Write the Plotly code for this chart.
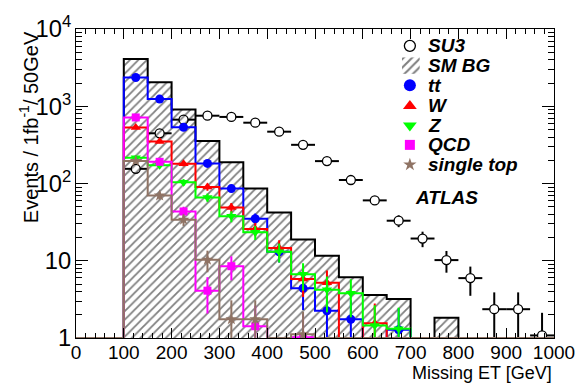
import math
import plotly.graph_objects as go

# ---------------- data (Events / 1fb^-1 / 50 GeV) ----------------
bin_edges = list(range(0, 1001, 50))
bin_centers = [e + 25 for e in bin_edges[:-1]]

su3 = [0, 0, 155, 447, 671, 755, 728, 613, 469, 317, 195, 111, 60.5, 33, 19.4, 10.2, 5.96, 2.36, 2.36, 1.08]
sm_bg = [0, 0, 4100, 2040, 906, 356, 188, 86, 42, 18.9, 11.6, 6.1, 3.6, 3.2, 0, 1.83, 0, 0, 0, 0]
ttbar = [0, 0, 2355, 1240, 535, 182, 86, 35, 13.1, 4.4, 2.25, 1.75, 0, 1.28, 0, 0, 0, 0, 0, 0]
wjets = [0, 0, 530, 351, 180, 90, 49, 25.8, 14.6, 5.8, 5.2, 0, 1.55, 0, 0, 0, 0, 0, 0, 0]
zjets = [0, 0, 216, 172, 104, 66, 37.6, 23.4, 13.1, 6.7, 4.2, 3.8, 1.45, 1.32, 0, 0, 0, 0, 0, 0]
qcd = [0, 0, 717, 191, 43.5, 4.1, 8.5, 1.42, 0, 1.02, 0, 0, 0, 0, 0, 0, 0, 0, 0, 0]
single_top = [0, 0, 196, 70, 34, 10.3, 1.75, 1.75, 0, 1.12, 0, 0, 0, 0, 0, 0, 0, 0, 0, 0]

legend_labels = ["SU3", "SM BG", "tt", "W", "Z", "QCD", "single top"]
x_ticks = list(range(0, 1001, 100))

YMIN = 1.0
FONT = "Liberation Sans, Arial, sans-serif"
BROWN = "#8f7364"
GREEN = "#00ff00"

fig = go.Figure()


def step_path(vals, floor=YMIN):
    ys = [max(v, floor) for v in vals]
    x = [bin_edges[0]] + bin_edges
    y = [floor] + ys + [floor]
    return x, y


def point_arrays(vals):
    ys = [v if v > 0 else None for v in vals]
    err = [math.sqrt(v) if v > 0 else None for v in vals]
    return ys, err


# SU3 (drawn first, beneath the hatching)
y_su3, e_su3 = point_arrays(su3)
fig.add_trace(go.Scatter(
    x=bin_centers, y=y_su3, mode="markers",
    marker=dict(symbol="circle", size=9, color="white", line=dict(color="black", width=1.3)),
    error_y=dict(type="data", array=e_su3, color="black", thickness=2, width=0),
    error_x=dict(type="constant", value=25, color="black", thickness=2, width=0),
    showlegend=False,
))

# SM background: hatched, black outline
xs, ys = step_path(sm_bg)
fig.add_trace(go.Scatter(
    x=xs, y=ys, mode="lines", line=dict(color="black", width=2, shape="hv"),
    fill="toself", fillcolor="rgba(0,0,0,0)",
    fillpattern=dict(shape="/", fgcolor="black", bgcolor="rgba(0,0,0,0)", size=6, solidity=0.3),
    showlegend=False, hoverinfo="skip",
))

series = [
    (ttbar, "#0000ff", "circle", 9),
    (wjets, "#ff0000", "triangle-up", 9),
    (zjets, GREEN, "triangle-down", 9),
    (qcd, "#ff00ff", "square", 8),
    (single_top, BROWN, "star", 9),
]

for vals, col, sym, sz in series:
    xs, ys = step_path(vals)
    fig.add_trace(go.Scatter(
        x=xs, y=ys, mode="lines", line=dict(color=col, width=2, shape="hv"),
        showlegend=False, hoverinfo="skip",
    ))
    yp, ep = point_arrays(vals)
    fig.add_trace(go.Scatter(
        x=bin_centers, y=yp, mode="markers",
        marker=dict(symbol=sym, size=sz, color=col, line=dict(width=0)),
        error_y=dict(type="data", array=ep, color=col, thickness=2, width=0),
        showlegend=False,
    ))

# ---------------- manual legend on an overlay axis ----------------
leg_x_marker = 0.6985
leg_x_text = 0.732
leg_rows = [0.9455, 0.881, 0.818, 0.751, 0.688, 0.625, 0.561]

leg_markers = [
    ("circle", "white", "black", 11),
    None,
    ("circle", "#0000ff", "#0000ff", 12),
    ("triangle-up", "#ff0000", "#ff0000", 12),
    ("triangle-down", GREEN, GREEN, 12),
    ("square", "#ff00ff", "#ff00ff", 10),
    ("star", BROWN, BROWN, 10),
]
for row, lm in zip(leg_rows, leg_markers):
    if lm is None:
        continue
    sym, fc, lc, sz = lm
    fig.add_trace(go.Scatter(
        x=[leg_x_marker], y=[row], xaxis="x2", yaxis="y2", mode="markers",
        marker=dict(symbol=sym, size=sz, color=fc, line=dict(color=lc, width=1.3 if fc == "white" else 0)),
        showlegend=False, hoverinfo="skip",
    ))

# hatched legend box for SM BG
hx0, hx1 = 0.682, 0.719
hy0, hy1 = 0.855, 0.908
fig.add_trace(go.Scatter(
    x=[hx0, hx1, hx1, hx0, hx0], y=[hy0, hy0, hy1, hy1, hy0], xaxis="x2", yaxis="y2",
    mode="lines", line=dict(width=0, color="rgba(0,0,0,0)"),
    fill="toself", fillcolor="rgba(0,0,0,0)",
    fillpattern=dict(shape="/", fgcolor="black", bgcolor="rgba(0,0,0,0)", size=6, solidity=0.35),
    showlegend=False, hoverinfo="skip",
))

annotations = []
for row, lab in zip(leg_rows, legend_labels):
    annotations.append(dict(
        x=leg_x_text, y=row, xref="paper", yref="paper", text=lab, showarrow=False,
        xanchor="left", yanchor="middle",
        font=dict(family=FONT, size=19, color="black", weight="bold", style="italic"),
    ))

annotations.append(dict(
    x=0.705, y=0.455, xref="paper", yref="paper", text="ATLAS", showarrow=False,
    xanchor="left", yanchor="middle",
    font=dict(family=FONT, size=19, color="black", weight="bold", style="italic"),
))

# axis titles
annotations.append(dict(
    x=1.0, y=-0.112, xref="paper", yref="paper", text="Missing ET [GeV]", showarrow=False,
    xanchor="right", yanchor="middle", font=dict(family=FONT, size=18, color="black"),
))
annotations.append(dict(
    x=-0.1, y=1.0, xref="paper", yref="paper", text="Events / 1fb<sup>-1</sup>/ 50GeV",
    showarrow=False, textangle=-90, xanchor="center", yanchor="top",
    font=dict(family=FONT, size=20, color="black"),
))

fig.update_layout(
    width=587, height=391,
    margin=dict(l=76, r=30, t=13, b=53),
    paper_bgcolor="white", plot_bgcolor="white",
    showlegend=False,
    font=dict(family=FONT, size=19, color="black"),
    annotations=annotations,
    xaxis=dict(
        range=[0, 1000], tickmode="array", tickvals=x_ticks,
        ticks="inside", ticklen=10, tickwidth=1, tickcolor="black",
        showline=True, linecolor="black", linewidth=1, mirror="ticks",
        showgrid=False, zeroline=False, ticklabelstandoff=-3,
        minor=dict(dtick=20, ticks="inside", ticklen=5, tickcolor="black", showgrid=False),
        tickfont=dict(family=FONT, size=19, color="black"),
    ),
    yaxis=dict(
        type="log", range=[0, 4.0005], dtick=1, exponentformat="power",
        ticks="inside", ticklen=12, tickwidth=1, tickcolor="black",
        showline=True, linecolor="black", linewidth=1, mirror="ticks",
        showgrid=False, zeroline=False, ticklabeloverflow="allow",
        minor=dict(dtick="D1", ticks="inside", ticklen=6, tickcolor="black", showgrid=False),
        tickfont=dict(family=FONT, size=19, color="black"),
    ),
    xaxis2=dict(range=[0, 1], overlaying="x", visible=False, fixedrange=True),
    yaxis2=dict(range=[0, 1], overlaying="y", visible=False, fixedrange=True),
)

# remove the browser's default 8px body margin so the figure sits at the page origin
fig.write_html(
    "out.html",
    config={"displayModeBar": False},
    post_script="document.body.style.margin='0';",
)
